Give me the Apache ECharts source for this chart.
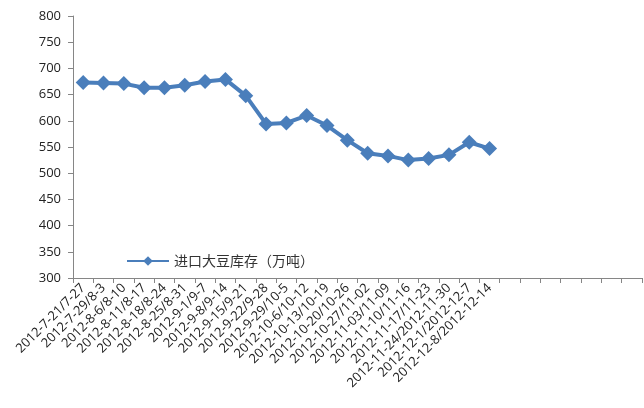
<!DOCTYPE html>
<html><head><meta charset="utf-8">
<script src="https://cdn.jsdelivr.net/npm/echarts@6/dist/echarts.min.js"></script>
<style>html,body{margin:0;padding:0;background:#fff}#c{width:644px;height:408px}</style>
</head><body><div id="c"></div>
<script>
const categories = ['2012-7-21/7-27','2012-7-29/8-3','2012-8-6/8-10','2012-8-11/8-17','2012-8-18/8-24','2012-8-25/8-31','2012-9-1/9-7','2012-9-8/9-14','2012-9-15/9-21','2012-9-22/9-28','2012-9-29/10-5','2012-10-6/10-12','2012-10-13/10-19','2012-10-20/10-26','2012-10-27/11-02','2012-11-03/11-09','2012-11-10/11-16','2012-11-17/11-23','2012-11-24/2012-11-30','2012-12-1/2012-12-7','2012-12-8/2012-12-14','','','','','','',''];
const seriesName = '进口大豆库存（万吨）';
const values = [673,672,671,663,663,668,675,679,648,594,596,610,591,563,538,533,525,528,535,559,547];
const yTicks = {min:300, max:800, interval:50};

const chart = echarts.init(document.getElementById('c'));
chart.setOption({
  animation:false,
  textStyle:{fontFamily:'"Open Sans","Noto Sans CJK SC",sans-serif'},
  grid:{left:73, right:2, top:16, bottom:130},
  legend:{
    data:[seriesName], left:121, top:249, itemWidth:42, itemHeight:12, itemGap:4,
    textStyle:{fontSize:14, color:'#333', fontFamily:'"Noto Sans CJK SC",sans-serif'}
  },
  xAxis:{
    type:'category', data:categories, boundaryGap:true,
    axisLine:{lineStyle:{color:'#868686'}},
    axisTick:{show:true, interval:0, length:5, lineStyle:{color:'#868686'}},
    axisLabel:{interval:0, rotate:45, fontSize:13, color:'#222', margin:8}
  },
  yAxis:{
    type:'value', min:yTicks.min, max:yTicks.max, interval:yTicks.interval,
    splitLine:{show:false},
    axisLine:{show:true, lineStyle:{color:'#868686'}},
    axisTick:{show:true, length:5, lineStyle:{color:'#868686'}},
    axisLabel:{fontSize:13, color:'#222', margin:12}
  },
  series:[{
    name:seriesName, type:'line', data:values,
    symbol:'diamond', symbolSize:15,
    lineStyle:{color:'#4a7ebb', width:4},
    itemStyle:{color:'#4a7ebb'}
  }]
});
</script></body></html>
